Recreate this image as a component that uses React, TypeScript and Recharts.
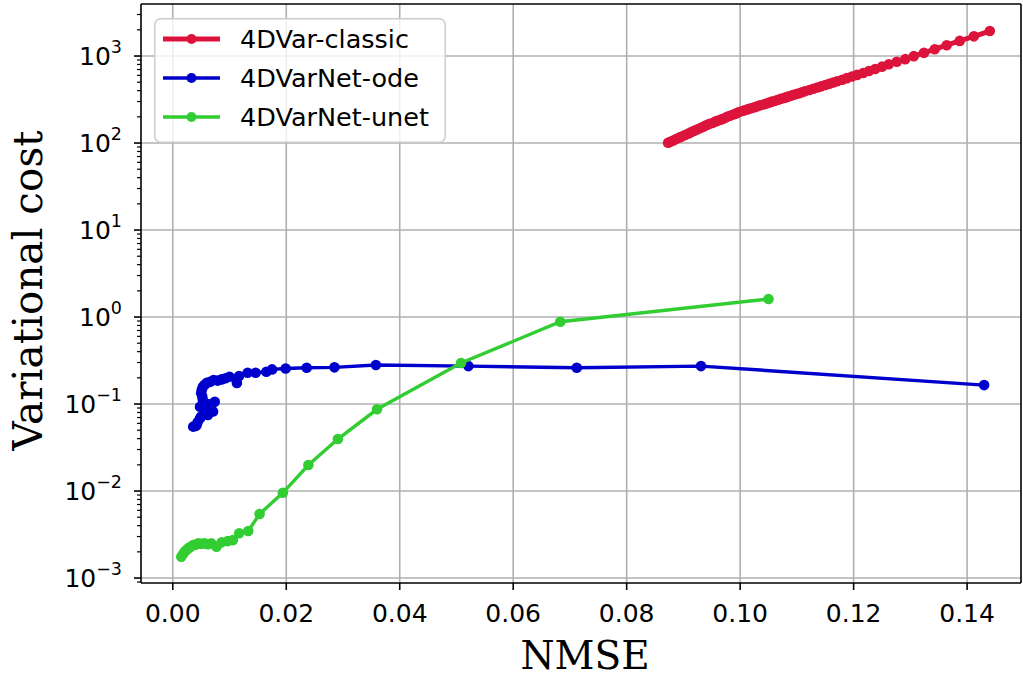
import { ScatterChart, Scatter, XAxis, YAxis, CartesianGrid, Legend, ReferenceLine } from 'recharts';

// axis setup
const X_DOMAIN = [-0.0056, 0.1495];
const X_TICKS = [0, 0.02, 0.04, 0.06, 0.08, 0.1, 0.12, 0.14];
const X_TICK_LABELS = ['0.00', '0.02', '0.04', '0.06', '0.08', '0.10', '0.12', '0.14'];
const Y_DOMAIN = [0.000877, 3963];
const Y_TICKS = [1e-3, 1e-2, 1e-1, 1, 10, 100, 1000];
const Y_EXPONENTS = ['−3', '−2', '−1', '0', '1', '2', '3'];
const Y_MINOR_TICKS = [
  0.0009,
  0.002, 0.003, 0.004, 0.005, 0.006, 0.007, 0.008, 0.009,
  0.02, 0.03, 0.04, 0.05, 0.06, 0.07, 0.08, 0.09,
  0.2, 0.3, 0.4, 0.5, 0.6, 0.7, 0.8, 0.9,
  2, 3, 4, 5, 6, 7, 8, 9,
  20, 30, 40, 50, 60, 70, 80, 90,
  200, 300, 400, 500, 600, 700, 800, 900,
  2000, 3000,
];

// 4DVar-classic
const classicNmse = [
  0.1440, 0.1412, 0.1387, 0.1364, 0.1343, 0.1324, 0.1306, 0.1291, 0.1276, 0.1262,
  0.1250, 0.1238, 0.1227, 0.1217, 0.1206, 0.1197, 0.1188, 0.1180, 0.1171, 0.1164,
  0.1157, 0.1150, 0.1143, 0.1136, 0.1129, 0.1122, 0.1114, 0.1109, 0.1104, 0.1099,
  0.1093, 0.1088, 0.1083, 0.1078, 0.1072, 0.1067, 0.1062, 0.1056, 0.1051, 0.1046,
  0.1041, 0.1035, 0.1030, 0.1025, 0.1019, 0.1014, 0.1009, 0.1004, 0.0998, 0.0993,
  0.0988, 0.0982, 0.0977, 0.0972, 0.0967, 0.0961, 0.0956, 0.0951, 0.0945, 0.0940,
  0.0935, 0.0930, 0.0924, 0.0919, 0.0914, 0.0909, 0.0903, 0.0898, 0.0893, 0.0887,
  0.0882, 0.0877, 0.0873,
];
const classicCost = [
  1938, 1684, 1492, 1331, 1197, 1088, 997, 921, 860, 803,
  755, 709, 674, 639, 607, 581, 557, 534, 513, 496,
  479, 464, 448, 434, 420, 407, 393, 384, 374, 365,
  356, 347, 339, 330, 322, 315, 306, 299, 291, 284,
  277, 271, 264, 257, 251, 245, 239, 233, 227, 219,
  213, 206, 200, 193, 187, 181, 176, 170, 165, 160,
  154, 149, 143, 138, 133.5, 128.6, 123.9, 119.4, 115.4, 111.2,
  107.1, 103.2, 100.8,
];

// 4DVarNet-ode
const odeNmse = [
  0.1430, 0.0931, 0.0712, 0.0521, 0.0358, 0.0285, 0.0236, 0.0199, 0.0175, 0.0165,
  0.0146, 0.0132, 0.0117, 0.0113, 0.0100, 0.0093, 0.0086, 0.0079, 0.0072, 0.0066,
  0.0060, 0.0056, 0.0053, 0.0051, 0.0050, 0.0052, 0.0053, 0.0074, 0.0061, 0.0048,
  0.0057, 0.0071, 0.0062, 0.0050, 0.0048, 0.0044, 0.0042, 0.0036, 0.0040,
];
const odeCost = [
  0.165, 0.273, 0.261, 0.273, 0.281, 0.264, 0.261, 0.256, 0.250, 0.235,
  0.229, 0.229, 0.210, 0.175, 0.206, 0.198, 0.192, 0.186, 0.189, 0.180,
  0.176, 0.166, 0.158, 0.145, 0.133, 0.122, 0.111, 0.106, 0.100, 0.093,
  0.088, 0.082, 0.075, 0.072, 0.0685, 0.062, 0.057, 0.055, 0.056,
];

// 4DVarNet-unet
const unetNmse = [
  0.1050, 0.0683, 0.0508, 0.0360, 0.0291, 0.0239, 0.0194, 0.0153, 0.0133, 0.0117,
  0.0106, 0.0097, 0.0086, 0.0077, 0.0068, 0.0062, 0.0056, 0.0050, 0.0045, 0.0040,
  0.0036, 0.0031, 0.0027, 0.0024, 0.0021, 0.0018, 0.0015,
];
const unetCost = [
  1.61, 0.883, 0.296, 0.087, 0.0396, 0.0199, 0.00955, 0.00544, 0.00347, 0.00327,
  0.00273, 0.00266, 0.00257, 0.00229, 0.0025, 0.00245, 0.0025, 0.00247, 0.0025, 0.00242,
  0.00239, 0.00228, 0.00219, 0.0021, 0.0020, 0.00188, 0.00176,
];

const zip = (xs: number[], ys: number[]) => xs.map((x, i) => ({ x, y: ys[i] }));

const SERIES = [
  { name: '4DVar-classic', color: '#dc143c', width: 5, data: zip(classicNmse, classicCost) },
  { name: '4DVarNet-ode', color: '#0000cd', width: 3.4, data: zip(odeNmse, odeCost) },
  { name: '4DVarNet-unet', color: '#32cd32', width: 3.4, data: zip(unetNmse, unetCost) },
];

const ALL_Y_TICKS = [...Y_TICKS, ...Y_MINOR_TICKS];

const TICK_FONT = 'DejaVu Sans, sans-serif';
const LABEL_FONT = 'DejaVu Serif, serif';

// draws both major (labelled) and minor ticks of the log axis
function LogTick(props: any) {
  const { x, y, payload } = props;
  const i = Y_TICKS.indexOf(payload.value);
  if (i < 0) {
    return <line x1={x - 4} x2={x} y1={y} y2={y} stroke="#000" strokeWidth={1.2} />;
  }
  return (
    <g>
      <line x1={x - 7} x2={x} y1={y} y2={y} stroke="#000" strokeWidth={1.6} />
      <text x={x - 19} y={y} dy={9} textAnchor="end" fontSize={25} fontFamily={TICK_FONT} fill="#000">
        <tspan>10</tspan>
        <tspan dy={-12} fontSize={17.5}>{Y_EXPONENTS[i]}</tspan>
      </text>
    </g>
  );
}

function XTitle(props: any) {
  const { x, y, width, height } = props.viewBox;
  return (
    <text x={x + width / 2 + 4} y={y + height - 8} textAnchor="middle" fontSize={39} fontFamily={LABEL_FONT} fill="#000">
      NMSE
    </text>
  );
}

function YTitle(props: any) {
  const { y, height } = props.viewBox;
  const cx = 42;
  const cy = y + height / 2 - 3;
  return (
    <text x={cx} y={cy} transform={`rotate(-90, ${cx}, ${cy})`} textAnchor="middle" fontSize={40.5} fontFamily={LABEL_FONT} fill="#000">
      Variational cost
    </text>
  );
}

function LegendBox() {
  return (
    <svg width={292} height={125} style={{ display: 'block' }}>
      <rect x={0.75} y={0.75} width={290.5} height={123.5} rx={6} fill="rgba(255,255,255,0.8)" stroke="#cccccc" strokeWidth={1.5} />
      {SERIES.map((s, i) => {
        const cy = 21 + i * 39;
        return (
          <g key={s.name}>
            <line x1={9} x2={66} y1={cy} y2={cy} stroke={s.color} strokeWidth={s.width} />
            <circle cx={37.5} cy={cy} r={5} fill={s.color} />
            <text x={86} y={cy + 9} fontSize={25.5} fontFamily={TICK_FONT} fill="#000">{s.name}</text>
          </g>
        );
      })}
    </svg>
  );
}

const axisStroke = { stroke: '#000', strokeWidth: 1.6 };

export default function App() {
  return (
    <div style={{ position: 'absolute', left: 0, top: 0, background: '#fff' }}>
      <ScatterChart width={1023} height={677} margin={{ top: 4, right: 2, bottom: 0, left: 0 }}>
        <CartesianGrid stroke="#b0b0b0" strokeWidth={1.6} horizontalValues={Y_TICKS} verticalValues={X_TICKS} />
        <XAxis
          dataKey="x"
          type="number"
          domain={X_DOMAIN}
          allowDataOverflow
          ticks={X_TICKS}
          tickFormatter={(v: number, i: number) => X_TICK_LABELS[i] ?? v.toFixed(2)}
          height={94}
          tickSize={7}
          tickMargin={14}
          axisLine={axisStroke}
          tickLine={axisStroke}
          tick={{ fontSize: 25, fill: '#000', fontFamily: TICK_FONT }}
          label={<XTitle />}
        />
        <YAxis
          dataKey="y"
          type="number"
          scale="log"
          domain={Y_DOMAIN}
          allowDataOverflow
          ticks={ALL_Y_TICKS}
          interval={0}
          width={141}
          tickSize={0}
          tickMargin={0}
          axisLine={axisStroke}
          tickLine={false}
          tick={<LogTick />}
          label={<YTitle />}
        />
        <ReferenceLine x={X_DOMAIN[1]} stroke="#000" strokeWidth={1.6} />
        <ReferenceLine y={Y_DOMAIN[1]} stroke="#000" strokeWidth={1.6} />
        {SERIES.map((s) => (
          <Scatter
            key={s.name}
            name={s.name}
            data={s.data}
            fill={s.color}
            line={{ stroke: s.color, strokeWidth: s.width }}
            lineType="joint"
            isAnimationActive={false}
            shape={(p: any) => <circle cx={p.cx} cy={p.cy} r={5.3} fill={s.color} />}
          />
        ))}
        <Legend
          layout="vertical"
          align="center"
          verticalAlign="middle"
          content={() => <LegendBox />}
          wrapperStyle={{ left: 154, top: 18, width: 292, height: 125, lineHeight: 0 }}
        />
      </ScatterChart>
    </div>
  );
}
